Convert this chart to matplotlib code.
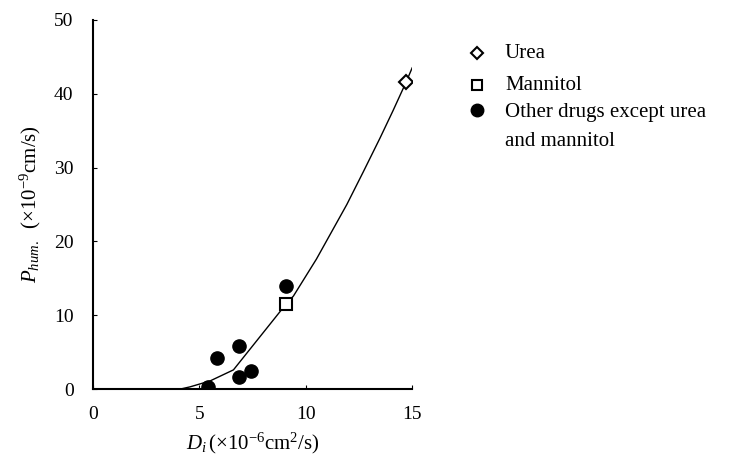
import matplotlib
matplotlib.use('Agg')
import matplotlib.pyplot as plt
from matplotlib.lines import Line2D

plt.rcParams['font.family'] = 'Liberation Serif'
plt.rcParams['mathtext.fontset'] = 'custom'
plt.rcParams['mathtext.rm'] = 'Liberation Serif'
plt.rcParams['mathtext.it'] = 'Liberation Serif:italic'

# data
urea_x = [14.7]
urea_y = [41.6]
mannitol_x = [9.07]
mannitol_y = [11.5]
other_x = [5.42, 5.81, 6.88, 6.88, 7.41, 9.06]
other_y = [0.3, 4.2, 5.8, 1.6, 2.5, 14.0]

# fitted curve as drawn in the reference
fit_x = [4.1, 4.56, 5.5, 6.6, 9.07, 9.42, 10.5, 11.93, 12.7, 13.49, 14.1, 14.72, 15.0]
fit_y = [0.0, 0.3, 1.1, 2.6, 11.5, 12.6, 17.6, 25.0, 29.4, 34.0, 37.7, 41.6, 43.5]

legend_labels = ['Urea', 'Mannitol', 'Other drugs except urea\nand mannitol']

fig = plt.figure(figsize=(7.44, 4.61), dpi=100)
ax = fig.add_axes([0.125, 0.156, 0.429, 0.801])

ax.plot(fit_x, fit_y, color='black', lw=1.0, zorder=2)
ax.plot(other_x, other_y, 'o', color='black', ms=9.5, zorder=3)
ax.plot(mannitol_x, mannitol_y, 's', mfc='white', mec='black', mew=1.5, ms=8, zorder=4)
ax.plot(urea_x, urea_y, 'D', mfc='white', mec='black', mew=1.5, ms=7, zorder=4)

ax.set_xlim(0, 15)
ax.set_ylim(0, 50)
ax.set_xticks([0, 5, 10, 15])
ax.set_yticks([0, 10, 20, 30, 40, 50])
ax.tick_params(direction='in', length=3, width=0.8, labelsize=14, pad=12)
ax.tick_params(axis='y', pad=14)
for s in ['top', 'right']:
    ax.spines[s].set_visible(False)
for s in ['left', 'bottom']:
    ax.spines[s].set_linewidth(1.5)

ax.set_xlabel(r'$D_i\,$(×10$^{-6}$cm$^2$/s)', fontsize=15, labelpad=6)
ax.set_ylabel(r'$P_{hum.}$  (×10$^{-9}$cm/s)', fontsize=15, labelpad=8)

# legend drawn by hand so the circle lines up with the first text line
W, H = 744, 461
leg_y = [53, 85, 110]
markers = [('D', 6, 'white', 1.5), ('s', 7.5, 'white', 1.5), ('o', 9, 'black', 1)]
for (m, ms, fc, mw), yy, lab in zip(markers, leg_y, legend_labels):
    fig.add_artist(Line2D([477 / W], [1 - yy / H], marker=m, ms=ms, mfc=fc,
                          mec='black', mew=mw, ls='none', transform=fig.transFigure))
    if '\n' in lab:
        fig.text(505 / W, 1 - (yy - 7) / H, lab, fontsize=15, va='top', linespacing=1.7)
    else:
        fig.text(505 / W, 1 - yy / H, lab, fontsize=15, va='center')

fig.savefig('out.png', dpi=100)
